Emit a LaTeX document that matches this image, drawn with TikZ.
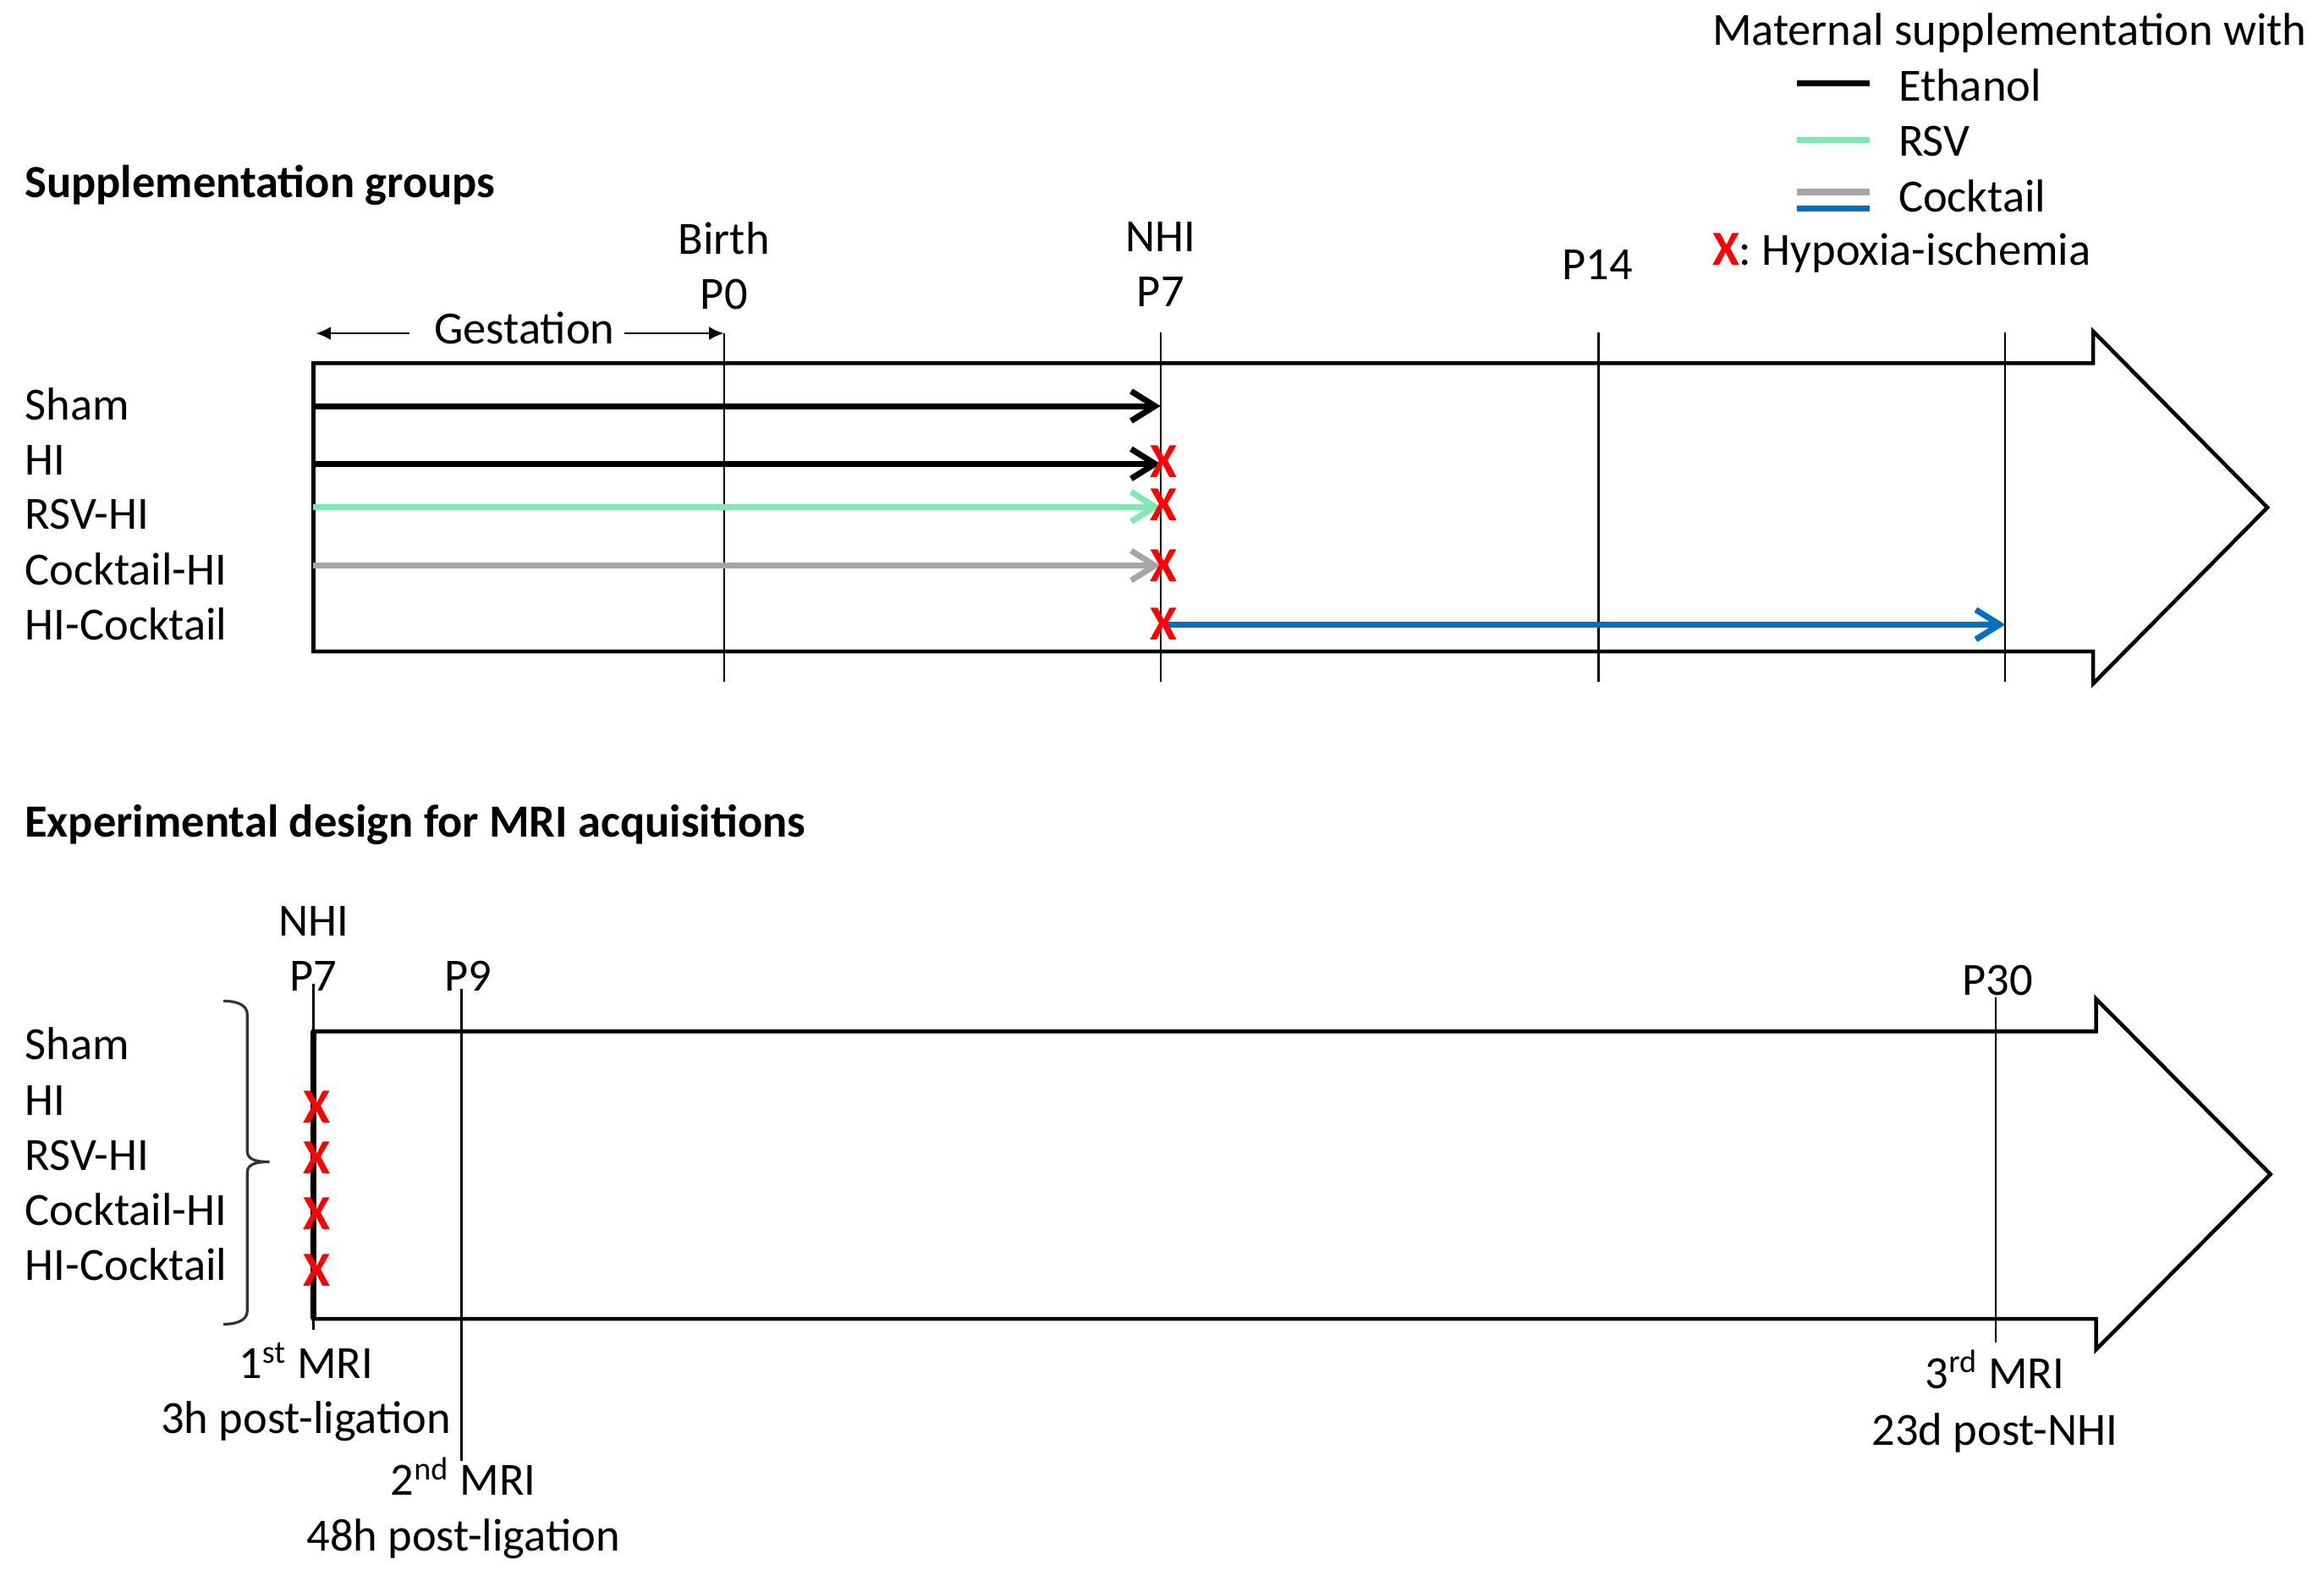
\documentclass[tikz,border=0pt]{standalone}
\usepackage{fontspec}
\setmainfont{Carlito}
\usetikzlibrary{arrows.meta}
\definecolor{rsvgreen}{RGB}{128,232,176}
\definecolor{cockgray}{RGB}{166,166,166}
\definecolor{cockblue}{RGB}{0,112,192}
\definecolor{hired}{RGB}{255,0,0}
\begin{document}
\begin{tikzpicture}[x=0.01761cm,y=-0.01761cm,
  txt/.style={inner sep=0pt, font=\fontsize{15.5pt}{18pt}\selectfont},
  lbl/.style={txt, anchor=base west},
  tlbl/.style={txt, anchor=base},
  ttl/.style={inner sep=0pt, anchor=base west, font=\fontsize{15.5pt}{18pt}\selectfont\bfseries},
  hix/.style={inner sep=0pt, text=hired, font=\fontsize{16.5pt}{18pt}\selectfont\bfseries},
  outline/.style={draw=black, line width=1.3pt, line join=miter},
  tline/.style={draw=black, line width=0.7pt},
  grp/.style={line width=2pt, -{Straight Barb[length=8pt,width=10pt]}},
  legline/.style={line width=2.2pt},
  gest/.style={line width=0.8pt, -{Latex[length=5pt,width=4.5pt]}},
  bracestyle/.style={draw=black!80, line width=0.9pt},
]
\useasboundingbox (0,0) rectangle (1560,1061);

% ---------------- Legend ----------------
\node[lbl] (legtitle) at (1149,30.3) {Maternal supplementation with};
\coordinate (le1a) at (1206,56);  \coordinate (le1b) at (1255,56);
\coordinate (le2a) at (1206,94);  \coordinate (le2b) at (1255,94);
\coordinate (le3a) at (1206,129); \coordinate (le3b) at (1255,129);
\coordinate (le4a) at (1206,140); \coordinate (le4b) at (1255,140);
\draw[legline, black] (le1a) -- (le1b);
\draw[legline, rsvgreen] (le2a) -- (le2b);
\draw[legline, cockgray] (le3a) -- (le3b);
\draw[legline, cockblue] (le4a) -- (le4b);
\node[lbl] (legeth) at (1274,68) {Ethanol};
\node[lbl] (legrsv) at (1274,105) {RSV};
\node[lbl] (legcock) at (1274,142) {Cocktail};
\node[lbl] (legx) at (1149,178) {\textcolor{hired}{\fontsize{16.5pt}{18pt}\selectfont\bfseries X}: Hypoxia-ischemia};

% ---------------- Supplementation groups ----------------
\node[ttl] (t1) at (16.3,132.4) {Supplementation groups};

\node[tlbl] (birth) at (486,170.7) {Birth};
\node[tlbl] (p0) at (486,207.8) {P0};
\node[tlbl] (nhi1) at (779,169) {NHI};
\node[tlbl] (p7a) at (779,206) {P7};
\node[tlbl] (p14) at (1072.4,187.8) {P14};

% gestation
\node[tlbl] (gesttxt) at (352,231) {Gestation};
\coordinate (gL) at (212,223.8);  \coordinate (gLi) at (275,223.8);
\coordinate (gR) at (486,223.8);  \coordinate (gRi) at (419,223.8);
\draw[gest] (gLi) -- (gL);
\draw[gest] (gRi) -- (gR);

% timeline big arrow (top)
\draw[outline] (210.4,243.8) -- (1405,243.8) -- (1405,222.4) -- (1522,340.7)
  -- (1405,459) -- (1405,437.3) -- (210.4,437.3) -- cycle;

% vertical lines
\coordinate (v0t) at (486,223.8);   \coordinate (v0b) at (486,458);
\coordinate (v7t) at (779,223);     \coordinate (v7b) at (779,458);
\coordinate (v14t) at (1073,223);   \coordinate (v14b) at (1073,458);
\coordinate (v21t) at (1346,223);   \coordinate (v21b) at (1346,458);
\draw[tline] (v0t) -- (v0b);
\draw[tline] (v7t) -- (v7b);
\draw[tline] (v14t) -- (v14b);
\draw[tline] (v21t) -- (v21b);

% row labels
\node[lbl] (r1) at (16.6,281.7) {Sham};
\node[lbl] (r2) at (16.6,319) {HI};
\node[lbl] (r3) at (16.6,355.5) {RSV-HI};
\node[lbl] (r4) at (16.6,392.8) {Cocktail-HI};
\node[lbl] (r5) at (16.6,429.7) {HI-Cocktail};

% group arrows
\coordinate (a1s) at (210.4,272.6); \coordinate (a1e) at (779,272.6);
\coordinate (a2s) at (210.4,311.4); \coordinate (a2e) at (779,311.4);
\coordinate (a3s) at (210.4,340.2); \coordinate (a3e) at (779,340.2);
\coordinate (a4s) at (210.4,379.7); \coordinate (a4e) at (779,379.7);
\coordinate (a5s) at (783,419.3);   \coordinate (a5e) at (1346,419.3);
\draw[grp, black] (a1s) -- (a1e);
\draw[grp, black] (a2s) -- (a2e);
\draw[grp, rsvgreen] (a3s) -- (a3e);
\draw[grp, cockgray] (a4s) -- (a4e);
\draw[grp, cockblue] (a5s) -- (a5e);

% HI crosses
\node[hix] (x1) at (781,309.9) {X};
\node[hix] (x2) at (781,338.8) {X};
\node[hix] (x3) at (781,380) {X};
\node[hix] (x4) at (781,419) {X};

% ---------------- Experimental design ----------------
\node[ttl] (t2) at (16.3,562) {Experimental design for MRI acquisitions};

\node[tlbl] (nhi2) at (210.4,628.4) {NHI};
\node[tlbl] (p7b) at (210.4,665.3) {P7};
\node[tlbl] (p9) at (314.4,665) {P9};
\node[tlbl] (p30) at (1341,668) {P30};

% timeline big arrow (bottom)
\draw[outline] (210.4,692.4) -- (1407,692.4) -- (1407,670.6) -- (1524,788.3)
  -- (1407,906) -- (1407,885.4) -- (210.4,885.4) -- cycle;
\coordinate (lt) at (210.4,692.4); \coordinate (lb) at (210.4,885.4);
\draw[line width=2pt] (lt) -- (lb);

% vertical lines bottom
\coordinate (w7t) at (210.4,660.5);  \coordinate (w7b) at (210.4,893);
\coordinate (w9t) at (309.8,664);    \coordinate (w9b) at (309.8,980.5);
\coordinate (w30t) at (1339.6,669.5); \coordinate (w30b) at (1339.6,901);
\draw[tline] (w7t) -- (w7b);
\draw[tline] (w9t) -- (w9b);
\draw[tline] (w30t) -- (w30b);

% row labels bottom
\node[lbl] (s1) at (16.6,711) {Sham};
\node[lbl] (s2) at (16.6,748.6) {HI};
\node[lbl] (s3) at (16.6,785.5) {RSV-HI};
\node[lbl] (s4) at (16.6,822.5) {Cocktail-HI};
\node[lbl] (s5) at (16.6,859.7) {HI-Cocktail};

% brace
\draw[bracestyle] (150,672) to[out=0,in=90] (166,681) -- (166,773)
  to[out=-90,in=180] (181,780) to[out=180,in=90] (166,787) -- (166,880)
  to[out=-90,in=0] (150,889);

% HI crosses bottom
\node[hix] (y1) at (212.5,743) {X};
\node[hix] (y2) at (212.5,777.5) {X};
\node[hix] (y3) at (212.5,814.5) {X};
\node[hix] (y4) at (212.5,853) {X};

% MRI labels
\node[tlbl] (m1) at (205.4,925.6) {1\textsuperscript{st} MRI};
\node[tlbl] (m1b) at (205.4,962.5) {3h post-ligation};
\node[tlbl] (m2) at (311,1004) {2\textsuperscript{nd} MRI};
\node[tlbl] (m2b) at (311,1041) {48h post-ligation};
\node[tlbl] (m3) at (1339,932) {3\textsuperscript{rd} MRI};
\node[tlbl] (m3b) at (1339,970) {23d post-NHI};
\end{tikzpicture}
\end{document}
